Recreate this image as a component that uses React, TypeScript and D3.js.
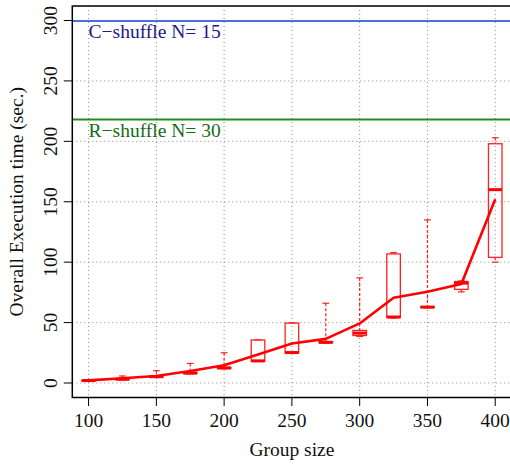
import React from "react";
import * as d3 from "d3";

const groups = [100, 125, 150, 175, 200, 225, 250, 275, 300, 325, 350, 375, 400];
const means = [2.2, 3.9, 5.8, 10.0, 14.7, 23.5, 32.7, 36.5, 49.3, 70.5, 75.5, 81.9, 152.0];
const lowWhisker = [1.5, 2.7, 4.8, 7.6, 11.8, 17.8, 24.5, 33.0, 38.5, 53.8, 62.2, 75.4, 100.0];
const q1 = [1.8, 2.9, 5.0, 7.9, 12.1, 18.0, 24.8, 33.3, 39.3, 54.2, 62.5, 77.5, 104.0];
const medians = [2.0, 3.1, 5.2, 8.2, 12.4, 18.3, 25.2, 33.7, 41.3, 54.6, 62.8, 82.7, 160.0];
const q3 = [2.3, 3.4, 5.6, 8.8, 13.0, 35.6, 49.6, 34.2, 43.5, 106.8, 63.2, 84.0, 198.0];
const highWhisker = [2.6, 5.8, 10.2, 16.2, 25.0, 35.8, 49.8, 66.0, 87.0, 108.0, 135.0, 84.5, 203.0];

const xTicks = [100, 150, 200, 250, 300, 350, 400];
const yTicks = [0, 50, 100, 150, 200, 250, 300];

const refLines = [
  { label: "C\u2212shuffle N= 15", value: 299.5, line: "#4a6fe0", text: "#1a1a8a" },
  { label: "R\u2212shuffle N= 30", value: 218, line: "#228B22", text: "#146c14" },
];

const W = 510;
const H = 465;
const FONT = "'Liberation Serif', 'DejaVu Serif', serif";
const FS = 19.5;

export default function App() {
  const x = d3.scaleLinear().domain([88, 412]).range([72.3, 511.5]);
  const y = d3.scaleLinear().domain([-12, 312]).range([397.5, 6]);
  const left = x(88), right = x(412), top = y(312), bottom = y(-12);
  const boxHalf = 5;
  const stapleHalf = 2.5;

  const line = d3
    .line<number>()
    .x((_, i) => x(groups[i]))
    .y((d) => y(d));

  return (
    <svg width={W} height={H} style={{ position: "absolute", left: 0, top: 0, background: "#fff" }}>
      {/* grid */}
      <g stroke="#8a8a8a" strokeWidth={1} strokeDasharray="1,3">
        {xTicks.map((t) => (
          <line key={"gx" + t} x1={x(t)} x2={x(t)} y1={top} y2={bottom} />
        ))}
        {yTicks.map((t) => (
          <line key={"gy" + t} x1={left} x2={right} y1={y(t)} y2={y(t)} />
        ))}
      </g>
      {/* reference lines */}
      {refLines.map((r) => (
        <g key={r.label}>
          <line x1={left} x2={right} y1={y(r.value)} y2={y(r.value)} stroke={r.line} strokeWidth={2} />
          <text x={x(100)} y={y(r.value) + 17} fill={r.text} fontFamily={FONT} fontSize={FS}>
            {r.label}
          </text>
        </g>
      ))}
      {/* boxes */}
      {groups.map((g, i) => {
        const cx = x(g);
        return (
          <g key={"b" + g} stroke="#ff2020" fill="none">
            <line x1={cx} x2={cx} y1={y(highWhisker[i])} y2={y(q3[i])} strokeWidth={1.2} strokeDasharray="3,2" />
            <line x1={cx} x2={cx} y1={y(q1[i])} y2={y(lowWhisker[i])} strokeWidth={1.2} strokeDasharray="3,2" />
            <line x1={x(g - stapleHalf)} x2={x(g + stapleHalf)} y1={y(highWhisker[i])} y2={y(highWhisker[i])} strokeWidth={1.2} />
            <line x1={x(g - stapleHalf)} x2={x(g + stapleHalf)} y1={y(lowWhisker[i])} y2={y(lowWhisker[i])} strokeWidth={1.2} />
            <rect
              x={x(g - boxHalf)}
              width={x(g + boxHalf) - x(g - boxHalf)}
              y={y(q3[i])}
              height={Math.max(0.5, y(q1[i]) - y(q3[i]))}
              strokeWidth={1.3}
            />
            <line x1={x(g - boxHalf)} x2={x(g + boxHalf)} y1={y(medians[i])} y2={y(medians[i])} strokeWidth={3} stroke="red" />
          </g>
        );
      })}
      {/* mean line */}
      <path d={line(means) || ""} fill="none" stroke="red" strokeWidth={2.6} strokeLinejoin="round" />
      {/* frame */}
      <rect x={left} y={top} width={right - left} height={bottom - top} fill="none" stroke="#000" strokeWidth={1.5} />
      {/* axes */}
      <g fontFamily={FONT} fontSize={FS} fill="#111">
        {xTicks.map((t) => (
          <g key={"xt" + t}>
            <line x1={x(t)} x2={x(t)} y1={bottom} y2={bottom + 8.5} stroke="#000" strokeWidth={1} />
            <text x={x(t)} y={426.5} textAnchor="middle">
              {t}
            </text>
          </g>
        ))}
        {yTicks.map((t) => (
          <g key={"yt" + t}>
            <line x1={left} x2={left - 8.5} y1={y(t)} y2={y(t)} stroke="#000" strokeWidth={1} />
            <text transform={`translate(57.3,${y(t)}) rotate(-90)`} textAnchor="middle">
              {t}
            </text>
          </g>
        ))}
        <text x={(left + right) / 2} y={456} textAnchor="middle">
          Group size
        </text>
        <text transform={`translate(23,${(top + bottom) / 2}) rotate(-90)`} textAnchor="middle">
          Overall Execution time (sec.)
        </text>
      </g>
    </svg>
  );
}
